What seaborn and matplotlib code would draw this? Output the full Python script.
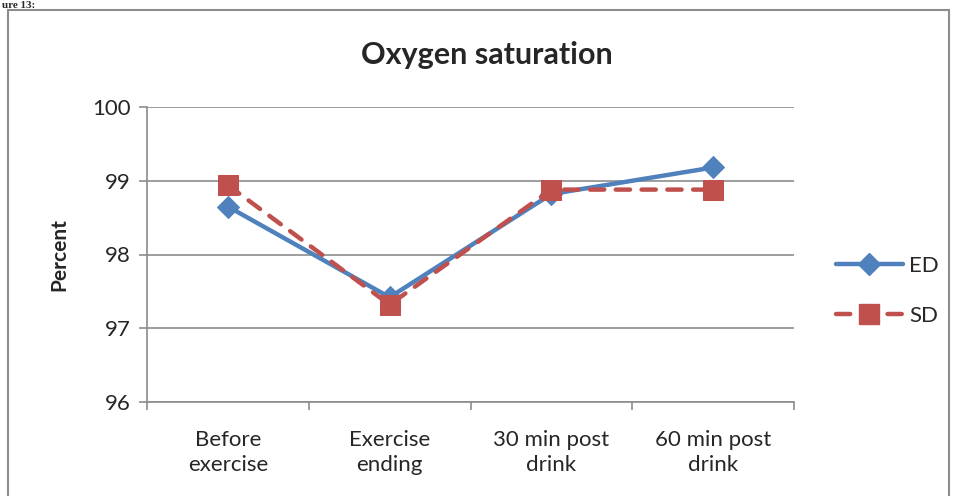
import matplotlib
matplotlib.use("Agg")
import matplotlib.pyplot as plt
from matplotlib.patches import Rectangle
from matplotlib.lines import Line2D
import seaborn as sns
import pandas as pd

categories = ["Before\nexercise", "Exercise\nending", "30 min post\ndrink", "60 min post\ndrink"]
ed_values = [98.65, 97.42, 98.82, 99.18]
sd_values = [98.94, 97.32, 98.88, 98.88]
series_names = ["ED", "SD"]
y_ticks = [96, 97, 98, 99, 100]

sns.set_theme(style="white")
plt.rcParams["font.family"] = ["Lato", "DejaVu Sans"]

df = pd.DataFrame({
    "pos": list(range(len(categories))) * 2,
    "value": ed_values + sd_values,
    "series": [series_names[0]] * len(categories) + [series_names[1]] * len(categories),
})

W, H = 957, 496
fig = plt.figure(figsize=(W / 100, H / 100), dpi=100)
ax = fig.add_axes([147 / W, 1 - 402 / H, (794 - 147) / W, (402 - 107) / H])

blue = "#4F81BD"
red = "#C0504D"
dash = (0, (3.2, 2.6))

sns.lineplot(data=df[df.series == "ED"], x="pos", y="value", ax=ax, color=blue,
             lw=3.2, marker="D", markersize=11, markeredgecolor=blue, legend=False)
sns.lineplot(data=df[df.series == "SD"], x="pos", y="value", ax=ax, color=red,
             lw=3.2, marker="s", markersize=14, markeredgecolor=red, legend=False,
             linestyle=dash, dash_capstyle="round")

ax.set_xlim(-0.5, len(categories) - 0.5)
ax.set_ylim(96, 100)
ax.set_yticks(y_ticks)
ax.set_yticklabels([str(t) for t in y_ticks], fontsize=16)
ax.yaxis.grid(True, color="#8c8c8c", lw=1.2)
ax.set_axisbelow(True)

ax.set_xticks([i - 0.5 for i in range(len(categories) + 1)])
ax.set_xticklabels([])
ax.set_xticks(list(range(len(categories))), minor=True)
ax.set_xticklabels(categories, minor=True, fontsize=16, linespacing=1.35)
ax.tick_params(axis="x", which="minor", length=0, pad=20)
ax.tick_params(axis="x", which="major", length=6, width=1.2, color="#8c8c8c", direction="out", bottom=True)
ax.tick_params(axis="y", which="major", length=6, width=1.2, color="#8c8c8c", direction="out", left=True, pad=6)

for s in ["top", "right"]:
    ax.spines[s].set_visible(False)
for s in ["left", "bottom"]:
    ax.spines[s].set_color("#8c8c8c")
    ax.spines[s].set_linewidth(1.2)

ax.set_xlabel("")
ax.set_ylabel("Percent", fontsize=15, fontweight="bold", labelpad=16)

fig.text(487 / W, 1 - 55 / H, "Oxygen saturation", ha="center", va="center",
         fontsize=22, fontweight="bold")

handles = [
    Line2D([], [], color=blue, lw=3.2, marker="D", markersize=11),
    Line2D([], [], color=red, lw=3.2, marker="s", markersize=14, linestyle=dash,
           dash_capstyle="round"),
]
fig.legend(handles, series_names, loc="center left", bbox_to_anchor=(816 / W, 1 - 291 / H),
           frameon=False, fontsize=16, handlelength=3.0, labelspacing=1.35, handletextpad=0.3)

fig.patches.append(Rectangle((8 / W, -0.05), (W - 16) / W, 1 - 10 / H + 0.05,
                             transform=fig.transFigure, fill=False, edgecolor="#8c8c8c", lw=1.5))

fig.text(2 / W, 1 - 1 / H, "ure 13:", ha="left", va="top", fontsize=8,
         fontweight="bold", family=["Liberation Serif", "DejaVu Serif"])

fig.savefig("out.png", dpi=100)
